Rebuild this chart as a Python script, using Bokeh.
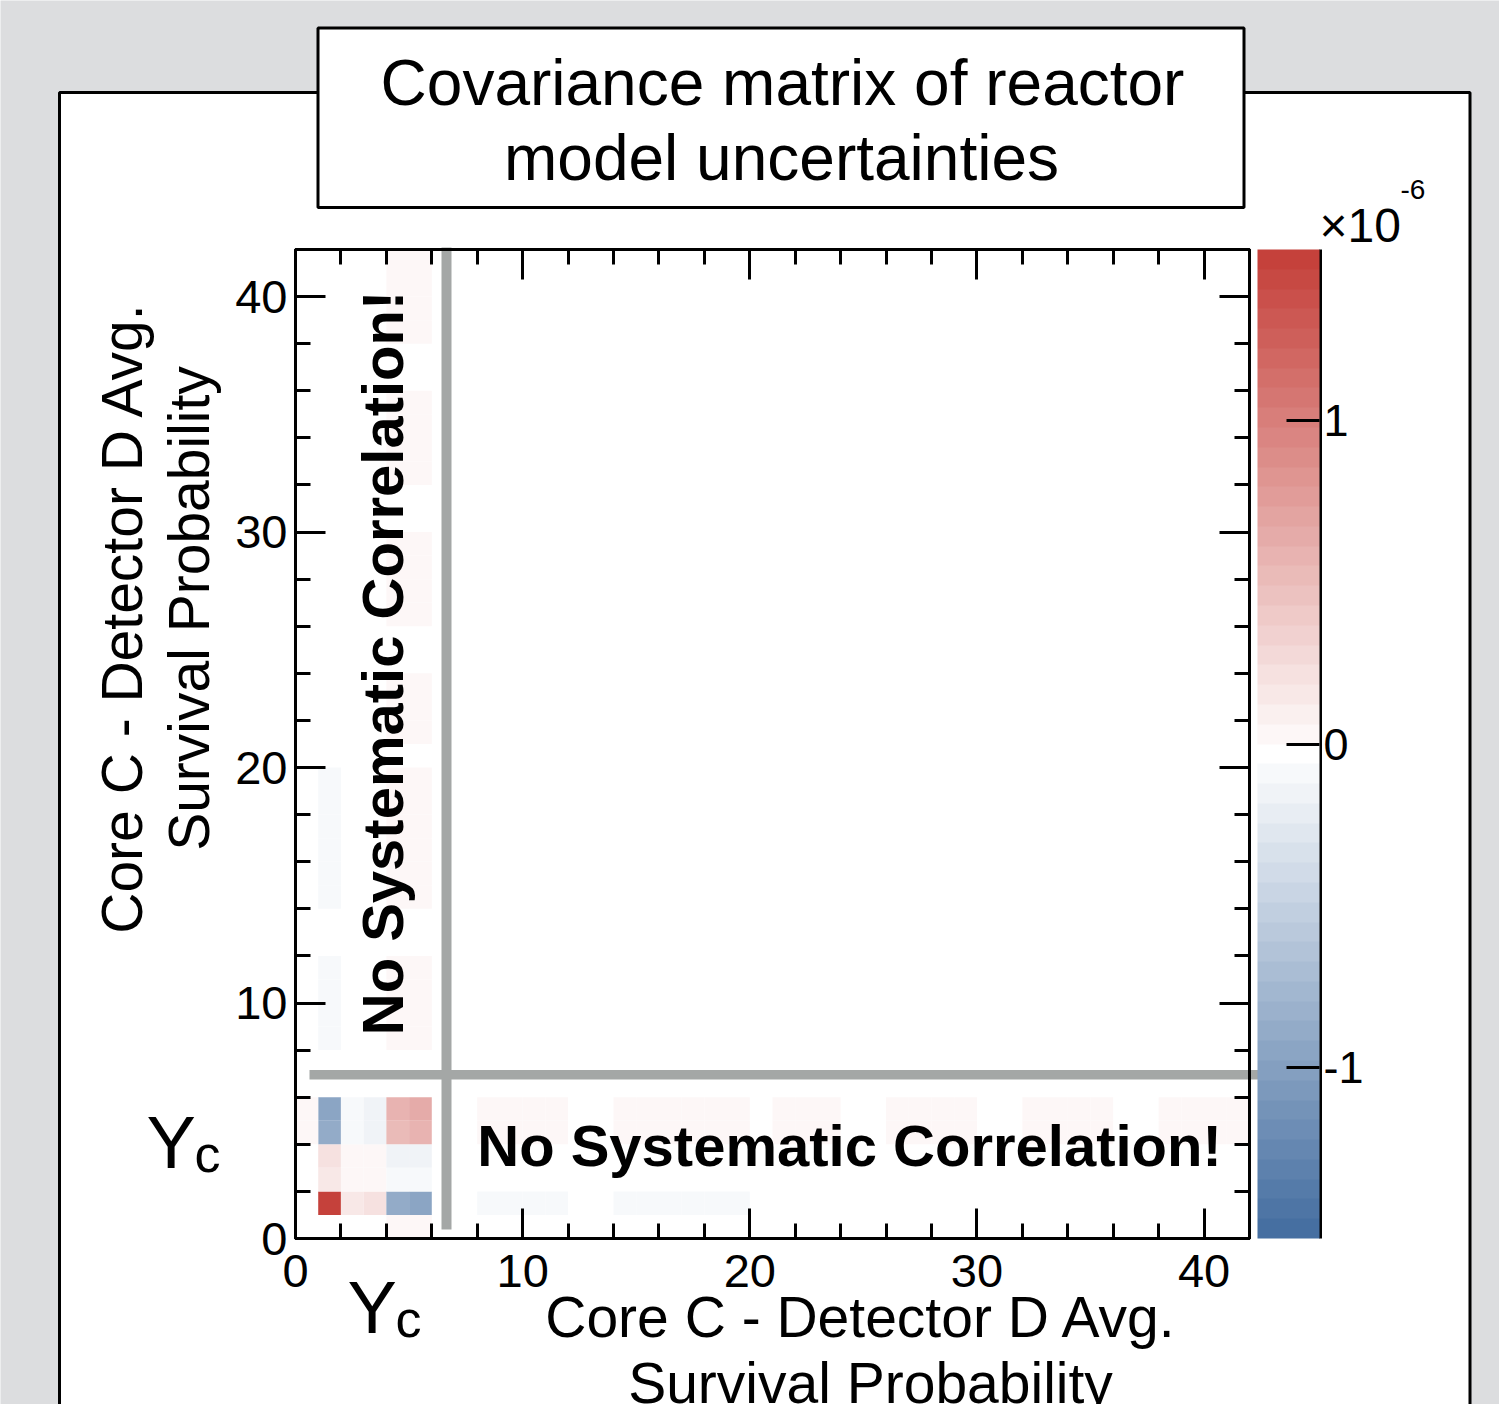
import math
from bokeh.plotting import figure
from bokeh.models import (Range1d, LinearAxis, SingleIntervalTicker, FixedTicker, GridBox, Column,
                          LinearColorMapper, ColorBar, Label, ColumnDataSource,
                          CustomJSTickFormatter)
from bokeh.embed import file_html
from bokeh.resources import INLINE

# ---------------- data (covariance in units of 1e-6) ----------------
yc_bins = [1, 2, 3, 4, 5]
yc_cov = [
    [1.48, 0.16, 0.20, -0.86, -0.93],
    [0.16, 0.03, 0.03, -0.08, -0.08],
    [0.20, 0.03, 0.03, -0.15, -0.15],
    [-0.86, -0.08, -0.15, 0.50, 0.56],
    [-0.93, -0.08, -0.15, 0.56, 0.63],
]
bin0_partner = [4, 5]
bin0_cov = [0.03, 0.03]
sp_block_start = [8, 14, 21, 26, 32, 38]
sp_block_end = [12, 20, 24, 30, 36, 42]
sp_cov_bin1 = [-0.08, -0.08, 0.0, 0.0, 0.0, 0.0]
sp_cov_bin4 = [0.03, 0.03, 0.03, 0.03, 0.03, 0.03]
sp_cov_bin5 = [0.03, 0.03, 0.03, 0.03, 0.03, 0.03]
n_bins = 42
axis_tick_interval = 10
cbar_ticks = [-1, 0, 1]
cbar_tick_labels = {-1: "-1", 0: "0", 1: "1"}
z_low, z_high = -1.53, 1.53

# ---------------- build cell table ----------------
cells = {}
for a, i in enumerate(yc_bins):
    for b, j in enumerate(yc_bins):
        cells[(i, j)] = yc_cov[b][a]
for k, v in zip(bin0_partner, bin0_cov):
    cells[(0, k)] = v
    cells[(k, 0)] = v
for n, (s, e) in enumerate(zip(sp_block_start, sp_block_end)):
    for sb in range(s, e):
        for ycb, arr in ((1, sp_cov_bin1), (4, sp_cov_bin4), (5, sp_cov_bin5)):
            v = arr[n]
            if v != 0:
                cells[(sb, ycb)] = v
                cells[(ycb, sb)] = v

src = ColumnDataSource(dict(
    left=[k[0] for k in cells], right=[k[0] + 1 for k in cells],
    bottom=[k[1] for k in cells], top=[k[1] + 1 for k in cells],
    v=list(cells.values())))

# ---------------- palette (50 bands, blue-white-red) ----------------
blue = (70, 111, 161)
red = (197, 65, 59)
palette = []
for k in range(50):
    if k < 25:
        f, c = (24 - k) / 24, blue
    else:
        f, c = (k - 24) / 25, red
    rgb = tuple(int(round(c[m] * f + 255 * (1 - f))) for m in range(3))
    palette.append("#%02x%02x%02x" % rgb)
mapper = LinearColorMapper(palette=palette, low=z_low, high=z_high)

FONT = "Liberation Sans"
W, H = 1499, 1404
GREY_BG = "#dcdddf"
LINE_GREY = "#a4a7a6"

# =============== background figure (decorations, canvas pixel coords) ===============
bg = figure(width=W, height=H, x_range=Range1d(0, W), y_range=Range1d(0, H),
            x_axis_type=None, y_axis_type=None, output_backend="svg", toolbar_location=None,
            min_border=0, background_fill_color=GREY_BG, border_fill_color=GREY_BG)
bg.outline_line_color = None
bg.grid.visible = False

def Y(py):
    return H - py

bg.quad(left=59, right=1469.5, top=Y(92), bottom=Y(1460), fill_color="white",
        line_color="black", line_width=3)
bg.quad(left=317.5, right=1243.5, top=Y(27.5), bottom=Y(207), fill_color="white",
        line_color="black", line_width=3)
bg.quad(left=1318.5, right=1321.5, top=Y(249), bottom=Y(1238), fill_color="black",
        line_color=None)
bg.quad(left=441, right=451, top=Y(247), bottom=Y(1229), fill_color=LINE_GREY, line_color=None)
bg.quad(left=309, right=1263, top=Y(1069.5), bottom=Y(1079), fill_color=LINE_GREY, line_color=None)

def blab(fig, text, x, y, size, align="left", angle=0.0, style="normal"):
    fig.add_layout(Label(x=x, y=y, text=text, text_font=FONT, text_font_size=size,
                         text_align=align, text_baseline="alphabetic", angle=angle,
                         text_font_style=style, text_color="black"))

# (anchors sit at the middle of the capitals)
blab(bg, "Covariance matrix of reactor", 782, Y(82.5), "64px", "center")
blab(bg, "model uncertainties", 781, Y(157.5), "64px", "center")
blab(bg, "\u00d710", 1319, Y(225), "48px", "left")
blab(bg, "-6", 1400, Y(188.5), "28px", "left")
blab(bg, "Core C - Detector D Avg.", 861, Y(1316.5), "57px", "center")
blab(bg, "Survival Probability", 870, Y(1382.5), "57px", "center")
blab(bg, "Core C - Detector D Avg.", 121.5, Y(617), "57px", "center", math.pi / 2)
blab(bg, "Survival Probability", 188.5, Y(608), "57px", "center", math.pi / 2)
blab(bg, "Y", 146, Y(1141.5), "74px", "left")
blab(bg, "c", 194, Y(1153.5), "52px", "left")
blab(bg, "Y", 347, Y(1306.5), "74px", "left")
blab(bg, "c", 395, Y(1318.5), "52px", "left")

# =============== main heat-map figure (transparent, overlaid) ===============
p = figure(width=W, height=H, x_range=Range1d(0, n_bins), y_range=Range1d(0, n_bins),
           output_backend="svg", toolbar_location=None,
           min_border_left=295, min_border_right=W - 1249, min_border_top=249,
           min_border_bottom=H - 1238,
           background_fill_color=None, border_fill_color=None)
p.grid.visible = False
p.outline_line_color = "black"
p.outline_line_width = 3

p.quad(left="left", right="right", bottom="bottom", top="top", source=src,
       fill_color={"field": "v", "transform": mapper}, line_color=None)

def style_axis(ax, labels=True, horizontal=True):
    ax.ticker = SingleIntervalTicker(interval=axis_tick_interval, num_minor_ticks=5)
    ax.axis_line_color = "black"
    ax.axis_line_width = 3
    ax.major_tick_in = 30
    ax.major_tick_out = 0
    ax.minor_tick_in = 15
    ax.minor_tick_out = 0
    ax.major_tick_line_width = 3
    ax.minor_tick_line_width = 3
    ax.major_tick_line_color = "black"
    ax.minor_tick_line_color = "black"
    if labels:
        ax.major_label_text_font = FONT
        ax.major_label_text_font_size = "47px"
        ax.major_label_text_color = "black"
        ax.major_label_standoff = 16 if horizontal else 8
    else:
        ax.formatter = CustomJSTickFormatter(code="return '';")
        ax.major_label_standoff = 0

style_axis(p.xaxis[0], True, True)
style_axis(p.yaxis[0], True, False)
top_ax = LinearAxis()
right_ax = LinearAxis()
style_axis(top_ax, False)
style_axis(right_ax, False)
p.add_layout(top_ax, "above")
p.add_layout(right_ax, "right")

# invisible spacer axis: leaves the 8px gap between frame and colour bar
spacer_ax = LinearAxis(formatter=CustomJSTickFormatter(code="return '';"),
                       axis_line_color=None, major_tick_line_color=None,
                       minor_tick_line_color=None, major_tick_in=0, major_tick_out=8,
                       minor_tick_in=0, minor_tick_out=0, major_label_standoff=0)
p.add_layout(spacer_ax, "right")

cb = ColorBar(color_mapper=mapper, ticker=FixedTicker(ticks=cbar_ticks),
              major_label_overrides=cbar_tick_labels, width=62, height=989,
              margin=0, padding=0, label_standoff=4, major_tick_in=33, major_tick_out=0,
              major_tick_line_color="black", major_tick_line_width=3,
              minor_tick_line_color=None, bar_line_color=None, border_line_color=None,
              major_label_text_font=FONT, major_label_text_font_size="45px",
              major_label_text_color="black", background_fill_color=None)
p.add_layout(cb, "right")

def sx(px):
    return (px - 295) / (954 / n_bins)

def sy(py):
    return (1238 - py) / (989 / n_bins)

blab(p, "No Systematic Correlation!", sx(849), sy(1145), "58px", "center", 0.0, "bold")
blab(p, "No Systematic Correlation!", sx(381.5), sy(662.5), "58px", "center", math.pi / 2, "bold")

layout = GridBox(children=[(Column(children=[bg]), 0, 0), (Column(children=[p]), 0, 0)])
open("out.html", "w").write(file_html(layout, INLINE))
